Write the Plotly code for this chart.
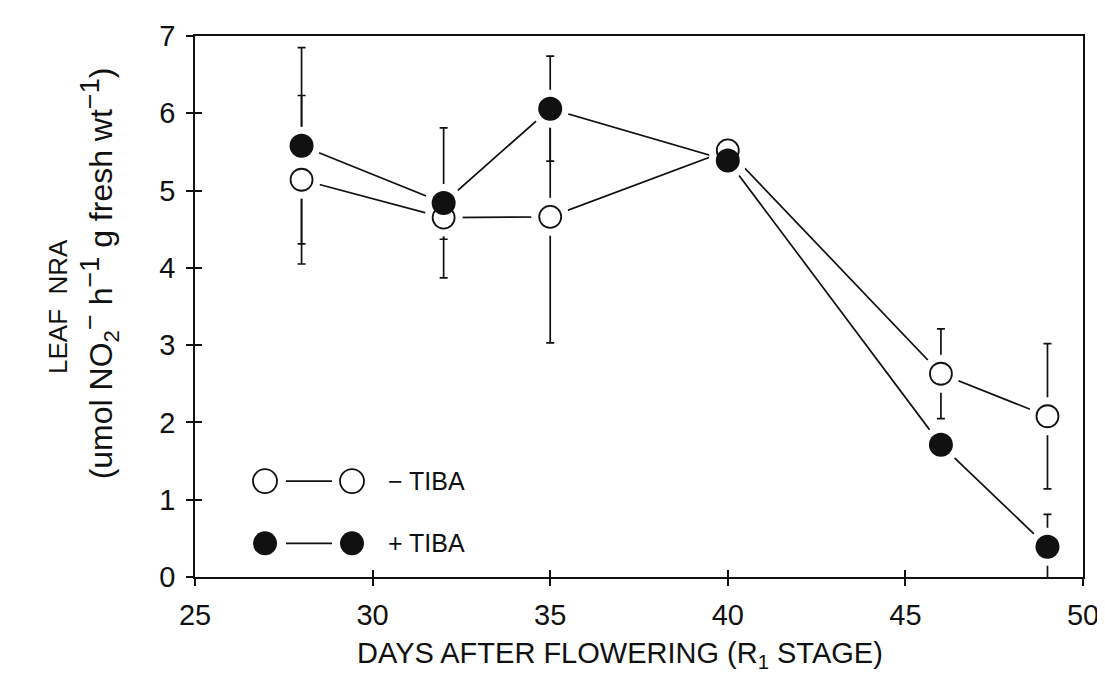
import plotly.graph_objects as go

days = [28, 32, 35, 40, 46, 49]
minus_tiba = [5.14, 4.65, 4.66, 5.52, 2.63, 2.08]
minus_err = [1.09, 0.28, 1.63, 0.08, 0.58, 0.94]
plus_tiba = [5.58, 4.84, 6.06, 5.39, 1.71, 0.39]
plus_err = [1.27, 0.97, 0.68, 0.08, 0.08, 0.42]

x_ticks = [25, 30, 35, 40, 45, 50]
y_ticks = [0, 1, 2, 3, 4, 5, 6, 7]
legend_labels = ["\u2212 TIBA", "+ TIBA"]

FONT = "Liberation Sans"
NARROW = "Liberation Sans Narrow, Liberation Sans"
BLACK = "#111111"
L, R, T, B = 187, 30, 22, 125
W, H = 1105, 694
pw = W - L - R
ph = H - T - B

fig = go.Figure()

for ys, es in [(minus_tiba, minus_err), (plus_tiba, plus_err)]:
    fig.add_trace(go.Scatter(
        x=days, y=ys, mode="lines",
        line=dict(color=BLACK, width=1.7),
        error_y=dict(type="data", array=es, visible=True, color=BLACK,
                     thickness=1.7, width=4),
        showlegend=False, hoverinfo="skip"))

# white halos to create gaps around markers
for ys in [minus_tiba, plus_tiba]:
    fig.add_trace(go.Scatter(
        x=days, y=ys, mode="markers",
        marker=dict(size=38, color="white", line=dict(width=0)),
        showlegend=False, hoverinfo="skip"))

fig.add_trace(go.Scatter(
    x=days, y=minus_tiba, mode="markers", name=legend_labels[0],
    marker=dict(size=22, color="white", line=dict(color=BLACK, width=1.8)),
    showlegend=False))
fig.add_trace(go.Scatter(
    x=days, y=plus_tiba, mode="markers", name=legend_labels[1],
    marker=dict(size=24, color=BLACK, line=dict(color=BLACK, width=0)),
    showlegend=False))

# invisible trace for inner tick axes
fig.add_trace(go.Scatter(x=[25], y=[0], xaxis="x2", yaxis="y2", mode="markers",
                         marker=dict(opacity=0), showlegend=False, hoverinfo="skip"))

axis_common = dict(showgrid=False, zeroline=False, linecolor=BLACK, linewidth=1.7,
                   tickcolor=BLACK, tickwidth=1.7)

fig.update_layout(
    width=W, height=H,
    margin=dict(l=L, r=R, t=T, b=B),
    paper_bgcolor="white", plot_bgcolor="white",
    font=dict(family=FONT, color=BLACK),
    xaxis=dict(range=[25, 50], tickvals=x_ticks, ticks="outside", ticklen=7,
               showline=True, mirror=True, ticklabelstandoff=4,
               tickfont=dict(size=29, family=FONT, color=BLACK),
               **axis_common),
    yaxis=dict(range=[0, 7], tickvals=y_ticks, ticks="outside", ticklen=7,
               showline=True, mirror=True, ticklabelstandoff=5,
               tickfont=dict(size=29, family=FONT, color=BLACK),
               **axis_common),
    xaxis2=dict(range=[25, 50], tickvals=x_ticks, ticks="inside", ticklen=7,
                overlaying="x", showticklabels=False, showline=False,
                showgrid=False, zeroline=False, tickcolor=BLACK, tickwidth=1.7),
    yaxis2=dict(range=[0, 7], tickvals=y_ticks, ticks="inside", ticklen=7,
                overlaying="y", showticklabels=False, showline=False,
                showgrid=False, zeroline=False, tickcolor=BLACK, tickwidth=1.7),
)

def px(xp):
    return (xp - L) / pw
def py(yp):
    return (H - B - yp) / ph

# x-axis title
fig.add_annotation(text="DAYS AFTER FLOWERING (R<sub>1</sub> STAGE)",
                   xref="paper", yref="paper", x=px(612), y=py(648),
                   xanchor="center", yanchor="middle", showarrow=False,
                   font=dict(size=29, family=FONT, color=BLACK))

# y-axis title (two lines)
fig.add_annotation(text="LEAF  NRA", xref="paper", yref="paper",
                   x=px(50), y=py(296), xanchor="center", yanchor="middle",
                   textangle=-90, showarrow=False,
                   font=dict(size=26, family=NARROW, color=BLACK))
sup = '<sup><span style="font-size:27px">{}</span></sup>'
line2 = ("(umol NO<sub>2</sub>" + sup.format("\u2212") + " h" + sup.format("\u22121")
         + " g fresh wt" + sup.format("\u22121") + ")")
fig.add_annotation(text=line2, xref="paper", yref="paper",
                   x=px(91), y=py(262), xanchor="center", yanchor="middle",
                   textangle=-90, showarrow=False,
                   font=dict(size=32, family=FONT, color=BLACK))

# legend drawn with shapes
rows = [(472, False, legend_labels[0]), (535, True, legend_labels[1])]
for ypix, filled, label in rows:
    for cx in (257, 344):
        fig.add_shape(type="circle", xref="paper", yref="paper",
                      xsizemode="pixel", ysizemode="pixel",
                      xanchor=px(cx), yanchor=py(ypix),
                      x0=-12, x1=12, y0=-12, y1=12,
                      fillcolor=BLACK if filled else "white",
                      line=dict(color=BLACK, width=1.8 if not filled else 0))
    fig.add_shape(type="line", xref="paper", yref="paper",
                  x0=px(278), x1=px(324), y0=py(ypix), y1=py(ypix),
                  line=dict(color=BLACK, width=1.7))
    fig.add_annotation(text=label, xref="paper", yref="paper",
                       x=px(378), y=py(ypix), xanchor="left", yanchor="middle",
                       showarrow=False, font=dict(size=25, family=FONT, color=BLACK))

fig.write_html("out.html")
